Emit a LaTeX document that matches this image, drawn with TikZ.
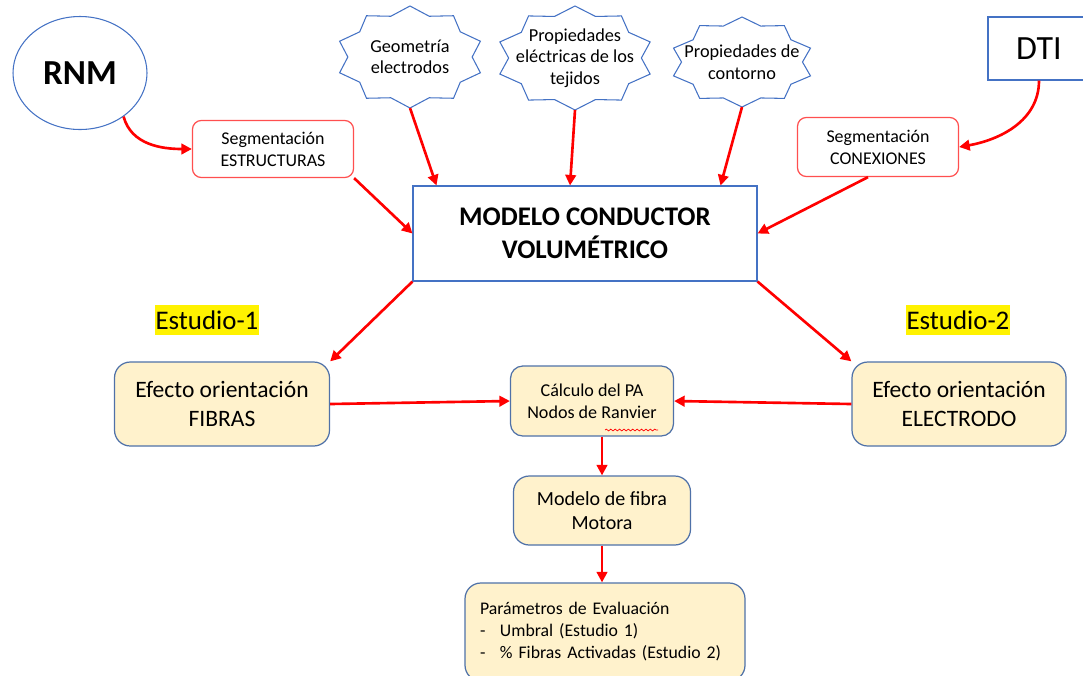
\documentclass[tikz,border=0pt]{standalone}
\usepackage{fontspec}
\setmainfont{Carlito}
\usetikzlibrary{shapes.geometric,arrows.meta,decorations.pathmorphing}
\definecolor{azul}{HTML}{4472C4}
\definecolor{azulb}{HTML}{4F71A8}
\definecolor{crema}{HTML}{FFF2CC}
\definecolor{rojo}{HTML}{FF0000}
\definecolor{rojoclaro}{HTML}{FF4F4F}
\begin{document}
\begin{tikzpicture}[
  flecha/.style={draw=rojo, line width=1.5pt, -{Triangle[length=6pt,width=6pt]}},
  segcaja/.style={draw=rojoclaro, line width=0.7pt, rounded corners=5pt, minimum width=3.22cm, minimum height=1.14cm, align=center, font=\fontsize{10.2}{12.5}\selectfont},
  efcaja/.style={draw=azulb, line width=0.7pt, fill=crema, rounded corners=9pt, align=center},
  estudio/.style={fill=yellow, inner xsep=0.5pt, inner ysep=3pt, font=\fontsize{15.3}{18}\selectfont},
  estrella/.style={draw=azul, line width=0.6pt},
]
\useasboundingbox (0,0) rectangle (21.66,-13.5);

% Entradas: imagenes
\node[ellipse, draw=azul, line width=0.6pt, minimum width=2.68cm, minimum height=2.26cm, font=\fontsize{20}{24}\selectfont\bfseries] (rnm) at (1.6,-1.46) {RNM};
\node[draw=azul, line width=0.6pt, minimum width=2.04cm, minimum height=1.26cm, font=\fontsize{19.3}{23}\selectfont] (dti) at (20.78,-0.97) {DTI};
\node[segcaja] (segE) at (5.46,-2.98) {Segmentación\\ESTRUCTURAS};
\node[segcaja, minimum height=1.18cm] (segC) at (17.56,-2.94) {Segmentación\\CONEXIONES};

% Estrellas de 10 puntas con parametros
\foreach \nm/\cx/\cy/\rx/\ry/\txt in {geo/8.2/-1.14/1.48/1.02/{Geometría\\electrodos},
    prop/11.5/-1.16/1.58/1.04/{Propiedades\\eléctricas de los\\tejidos},
    cont/14.84/-1.24/1.44/0.9/{Propiedades de\\contorno}}{
  \draw[estrella] plot[samples at={0,...,19}, variable=\k]
    ({\cx+ifthenelse(mod(\k,2)==0,1,0.84)*\rx*cos(90+18*\k)}, {\cy+ifthenelse(mod(\k,2)==0,1,0.84)*\ry*sin(90+18*\k)}) -- cycle;
  \node[align=center, font=\fontsize{10.4}{12.3}\selectfont] (\nm) at (\cx,\cy) {\txt};
  \coordinate (\nm-b) at (\cx,\cy-\ry);
}

% Modelo central
\node[draw=azul, line width=0.6pt, minimum width=6.88cm, minimum height=1.9cm, align=center, font=\fontsize{15.3}{18.8}\selectfont\bfseries] (main) at (11.7,-4.67) {MODELO CONDUCTOR\\VOLUMÉTRICO};

% Estudios
\node[estudio] (est1) at (4.14,-6.4) {Estudio-1};
\node[estudio] (est2) at (19.16,-6.4) {Estudio-2};
\node[efcaja, minimum width=4.3cm, minimum height=1.68cm, font=\fontsize{13.4}{16}\selectfont] (fib) at (4.44,-8.08) {Efecto orientación\\FIBRAS};
\node[efcaja, minimum width=4.28cm, minimum height=1.68cm, font=\fontsize{13.4}{16}\selectfont] (elec) at (19.18,-8.08) {Efecto orientación\\ELECTRODO};
\node[efcaja, rounded corners=7pt, minimum width=3.26cm, minimum height=1.4cm, font=\fontsize{10.3}{12.5}\selectfont] (calc) at (11.84,-8.02) {Cálculo del PA\\Nodos de Ranvier};
\draw[rojo, line width=0.4pt, decorate, decoration={snake, amplitude=0.5pt, segment length=2.5pt}] ([xshift=0.26cm,yshift=-0.58cm]calc.center) -- ++(1.06,0);
\node[efcaja, minimum width=3.54cm, minimum height=1.38cm, font=\fontsize{11.4}{13.7}\selectfont] (fibra) at (12.04,-10.21) {Modelo de fibra\\Motora};
\node[efcaja, align=left, text width=5cm, inner xsep=0.3cm, minimum height=1.96cm, font=\fontsize{10.1}{12.5}\selectfont] (param) at (12.1,-12.64) {Parámetros de Evaluación\\\makebox[0.4cm][l]{-}Umbral (Estudio 1)\\\makebox[0.4cm][l]{-}\% Fibras Activadas (Estudio 2)};

% Flechas
\draw[flecha] (rnm.-45) to[out=-75, in=180] (segE.west);
\draw[flecha] (segE.south east) -- (main.west);
\draw[flecha] (geo-b) -- ([xshift=0.48cm]main.north west);
\draw[flecha] (prop-b) -- ([xshift=-0.3cm]main.north);
\draw[flecha] (cont-b) -- ([xshift=-0.74cm]main.north east);
\draw[flecha] (dti.south) to[out=-90, in=10] (segC.east);
\draw[flecha] ([xshift=-0.2cm]segC.south) -- (main.east);
\draw[flecha] (main.south west) -- (fib.north east);
\draw[flecha] (main.south east) -- (elec.north west);
\draw[flecha] (fib.east) -- (calc.west);
\draw[flecha] (elec.west) -- (calc.east);
\draw[flecha] (calc.south -| fibra.north) -- (fibra.north);
\draw[flecha] (fibra.south) -- (fibra.south |- param.north);
\end{tikzpicture}
\end{document}
